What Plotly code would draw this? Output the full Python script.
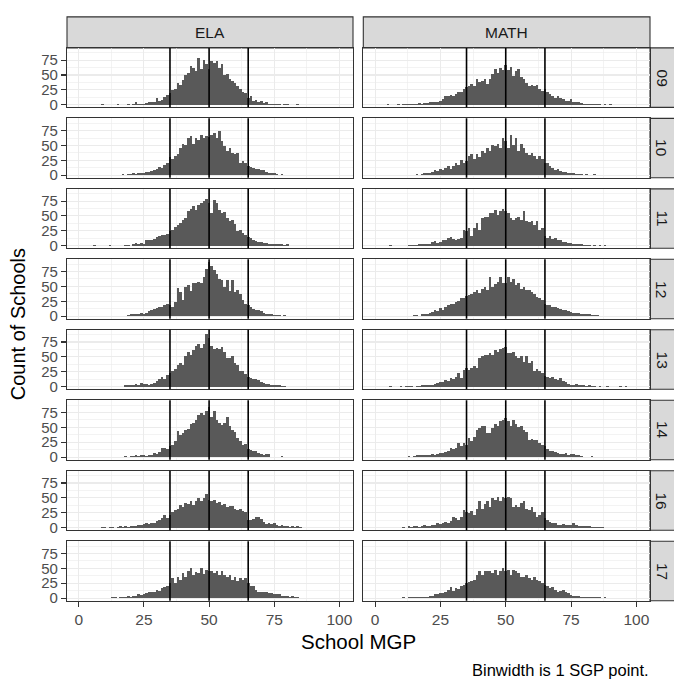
import plotly.graph_objects as go

# ---------------- data (counts of schools per 1-point MGP bin) ----------------
BINS = list(range(0, 101))
SUBJECTS = ["ELA", "MATH"]
YEARS = ["09", "10", "11", "12", "13", "14", "16", "17"]
REF_LINES = [35, 50, 65]
X_TICKS = [0, 25, 50, 75, 100]
Y_TICKS = [0, 25, 50, 75]

# each series: (first bin, counts from that bin on)
ela_09 = (9, [1,0,0,0,0,0,1,0,0,0,1,0,1,4,1,2,2,3,4,5,4,11,6,8,13,16,20,25,26,37,33,42,50,54,65,62,57,79,60,76,68,60,74,71,74,62,68,50,51,43,40,37,32,26,21,20,12,15,6,8,5,7,3,4,2,2,1,1,2,0,1,1,0,0,0,1])
ela_10 = (11, [1,0,1,1,0,1,2,1,2,2,3,2,3,3,4,5,5,7,8,10,14,12,17,20,30,28,32,35,45,52,50,62,66,52,62,60,68,63,66,64,68,71,63,74,58,49,41,46,38,35,38,21,24,21,16,13,12,10,10,8,8,5,4,3,3,2,1,2,1,1,1,0,1,0,1,0,1])
ela_11 = (6, [1,0,0,0,0,0,1,0,0,0,0,0,1,1,0,3,4,2,4,2,9,10,10,12,14,16,18,18,20,24,27,32,34,38,44,46,58,62,66,60,68,72,75,78,72,55,77,72,60,55,57,46,41,44,37,24,27,21,18,15,13,10,8,7,6,5,4,3,3,2,2,2,3,1,2])
ela_12 = (12, [1,0,0,0,0,0,0,2,3,3,3,4,5,4,6,8,10,12,14,15,16,18,20,18,16,24,48,40,27,49,52,43,55,56,58,55,66,80,91,85,77,71,63,61,49,60,43,60,41,44,38,27,21,18,15,12,11,10,8,6,4,4,3,2,2,2,1,2,1,1])
ela_13 = (18, [2,3,2,3,4,2,6,5,4,3,4,6,9,12,16,12,20,23,26,30,37,40,37,51,58,54,62,69,71,65,71,89,82,69,63,65,63,67,58,48,48,51,40,37,26,26,22,17,15,12,13,11,7,6,4,5,3,2,2,3,1,1])
ela_14 = (13, [1,1,0,1,1,2,1,2,2,3,2,3,3,2,3,4,7,5,8,15,15,14,18,21,27,44,38,41,46,48,55,57,63,71,74,70,77,84,68,77,63,57,54,57,67,52,46,43,32,27,21,22,14,12,10,11,7,6,4,5,5,1,1,0,1,2,1])
ela_16 = (9, [1,1,0,1,1,0,1,2,1,2,1,3,2,3,4,4,6,7,6,7,8,11,13,16,21,16,21,26,30,32,38,35,41,39,44,38,44,49,45,49,56,46,44,46,41,43,38,39,35,36,37,32,30,32,28,27,13,13,15,17,18,15,10,6,7,6,7,4,3,4,3,2,1,2,1,2,1])
ela_17 = (13, [1,1,0,1,1,2,3,2,3,4,6,5,7,9,10,10,11,14,12,17,18,20,25,34,25,36,31,42,36,45,51,39,43,42,50,40,47,45,46,42,45,39,45,38,36,39,31,36,29,33,31,33,25,21,21,14,11,10,11,10,9,8,7,7,6,3,4,3,2,3,1,1])

math_09 = (5, [1,0,0,0,1,0,1,1,1,2,1,2,3,2,3,3,4,4,4,5,7,10,15,14,16,15,18,22,21,26,29,32,35,32,43,39,40,44,35,43,51,60,54,61,59,66,59,63,49,57,60,46,43,37,32,33,31,33,27,23,26,21,18,14,12,14,11,10,7,7,9,5,4,5,3,2,2,1,1,1,1,1,0,1,0,1])
math_10 = (11, [1,0,1,1,1,2,1,2,3,3,4,6,8,7,11,8,12,16,10,16,21,18,25,20,24,32,35,27,36,30,41,38,46,41,51,49,53,46,63,58,46,68,51,63,41,52,46,38,34,38,32,28,32,28,21,20,16,12,8,10,7,6,5,4,3,3,2,2,2,1,2,1,1,2,1,1,0,1,0,1])
math_11 = (6, [1,0,0,0,0,0,0,1,1,1,1,2,2,3,3,3,6,8,4,7,10,10,13,14,12,10,12,13,27,24,30,16,30,38,27,47,49,49,55,55,60,52,58,62,58,55,46,43,47,49,43,58,41,40,42,35,41,27,30,16,13,17,11,13,10,10,7,6,4,5,3,3,2,2,1,1,1,0,1,0,1,0,1])
math_12 = (8, [1,0,0,1,1,0,1,2,2,1,3,3,4,5,7,10,9,13,11,16,18,20,21,24,26,30,31,34,35,38,41,44,39,46,49,44,66,49,54,57,66,56,55,66,58,63,52,56,46,49,44,44,41,38,32,30,27,21,18,19,16,15,14,12,11,10,8,7,6,5,5,4,3,3,3,2,2,2,1,1,0,1])
math_13 = (6, [1,0,0,0,1,0,1,1,1,0,1,1,2,2,2,3,3,4,6,7,8,11,9,15,12,17,23,14,28,31,28,31,34,31,48,51,54,54,56,54,62,59,63,65,66,57,56,59,51,48,52,42,51,40,43,26,29,27,23,18,17,14,16,13,11,15,9,7,5,3,3,4,2,3,2,1,2,1,1,0,1,0,0,1,0,0,0,0,1,0,1])
math_14 = (11, [1,1,2,1,2,3,4,3,4,3,4,5,4,5,7,7,8,10,15,13,15,24,18,24,21,32,27,33,46,49,52,52,41,41,49,55,52,60,63,66,60,52,63,55,50,52,46,43,29,31,29,29,24,21,18,13,10,11,9,7,6,5,7,4,6,5,3,4,2,1,1,0,2,0,1,0,0,0,0,1,0,0,1])
math_16 = (11, [1,0,2,1,2,2,1,2,4,3,3,4,5,7,6,7,10,8,11,18,16,13,18,30,27,24,28,21,32,44,32,40,44,35,49,46,52,45,52,49,52,49,35,38,35,41,44,32,30,35,27,18,21,27,16,13,10,8,7,5,4,6,5,5,5,8,5,3,3,2,3,2,1,1,1,1,1])
math_17 = (11, [1,0,1,1,1,1,1,1,2,2,3,4,6,7,8,8,11,14,18,12,17,16,20,22,25,27,28,31,38,45,38,46,45,46,42,47,39,45,50,45,47,39,47,45,42,36,35,39,34,31,35,31,28,25,22,21,17,18,14,10,12,14,11,8,5,4,3,3,2,2,1,1,1,1,1,1,0,1])

SERIES = {
    "ELA": [ela_09, ela_10, ela_11, ela_12, ela_13, ela_14, ela_16, ela_17],
    "MATH": [math_09, math_10, math_11, math_12, math_13, math_14, math_16, math_17],
}

def full_counts(spec):
    start, vals = spec
    out = [0] * len(BINS)
    for i, v in enumerate(vals):
        if start + i < len(out):
            out[start + i] = v
    return out

# ---------------- layout geometry (pixels) ----------------
W, H = 674, 683
def fx(p): return p / W
def fy(p): return 1 - p / H

COL_X = [(67, 353), (363.3, 650)]
ROW_TOP0, ROW_PITCH, ROW_H = 48.3, 71.1, 60.0
STRIP_TOP = 17
STRIP_R = (650, 681)
XR = [-4.5, 105.2]
YR = [-4.4, 95.6]

BAR = "#595959"
GRID = "#EBEBEB"
BORDER = "#333333"
STRIP_FILL = "#D9D9D9"
FONT = "Liberation Sans, Arial, sans-serif"

fig = go.Figure()
shapes = []
annotations = []
layout_axes = {}

for r, year in enumerate(YEARS):
    top = ROW_TOP0 + r * ROW_PITCH
    bot = top + ROW_H
    for c, subj in enumerate(SUBJECTS):
        n = r * 2 + c + 1
        xa = "x" if n == 1 else f"x{n}"
        ya = "y" if n == 1 else f"y{n}"
        xkey = "xaxis" if n == 1 else f"xaxis{n}"
        ykey = "yaxis" if n == 1 else f"yaxis{n}"
        bottom_row = (r == len(YEARS) - 1)
        left_col = (c == 0)
        layout_axes[xkey] = dict(
            domain=[fx(COL_X[c][0]), fx(COL_X[c][1])],
            anchor=ya, range=XR, fixedrange=True,
            tickmode="array", tickvals=X_TICKS,
            showticklabels=bottom_row,
            ticks="outside" if bottom_row else "", ticklen=5, tickwidth=1.1,
            tickcolor=BORDER,
            tickfont=dict(size=15.5, color="#4D4D4D", family=FONT),
            showgrid=True, gridcolor=GRID, gridwidth=1.1,
            minor=dict(tickmode="array", tickvals=[12.5, 37.5, 62.5, 87.5],
                       showgrid=True, gridcolor=GRID, gridwidth=0.6, ticks=""),
            zeroline=False,
            showline=True, mirror=True, linecolor=BORDER, linewidth=1.1,
        )
        layout_axes[ykey] = dict(
            domain=[fy(bot), fy(top)],
            anchor=xa, range=YR, fixedrange=True,
            tickmode="array", tickvals=Y_TICKS,
            showticklabels=left_col,
            ticks="outside" if left_col else "", ticklen=5, tickwidth=1.1,
            tickcolor=BORDER,
            tickfont=dict(size=15, color="#4D4D4D", family=FONT),
            showgrid=True, gridcolor=GRID, gridwidth=1.1,
            minor=dict(tickmode="array", tickvals=[12.5, 37.5, 62.5, 87.5],
                       showgrid=True, gridcolor=GRID, gridwidth=0.6, ticks=""),
            zeroline=False,
            showline=True, mirror=True, linecolor=BORDER, linewidth=1.1,
        )
        fig.add_trace(go.Bar(
            x=BINS, y=full_counts(SERIES[subj][r]), width=1,
            marker=dict(color=BAR, line=dict(width=0)),
            xaxis=xa, yaxis=ya, showlegend=False, hoverinfo="x+y",
        ))
        for v in REF_LINES:
            shapes.append(dict(type="line", xref=xa, yref=f"{ya} domain",
                               x0=v, x1=v, y0=0, y1=1,
                               line=dict(color="black", width=1.6), layer="above"))
    # right strip
    shapes.append(dict(type="rect", xref="paper", yref="paper",
                       x0=fx(STRIP_R[0]), x1=fx(STRIP_R[1]), y0=fy(bot), y1=fy(top),
                       fillcolor=STRIP_FILL, line=dict(color=BORDER, width=1.1), layer="below"))
    annotations.append(dict(text=year, xref="paper", yref="paper",
                            x=fx(662), y=fy((top + bot) / 2),
                            textangle=90, showarrow=False,
                            font=dict(size=15.5, color="#1A1A1A", family=FONT),
                            xanchor="center", yanchor="middle"))

# top strips
for c, subj in enumerate(SUBJECTS):
    shapes.append(dict(type="rect", xref="paper", yref="paper",
                       x0=fx(COL_X[c][0]), x1=fx(COL_X[c][1]),
                       y0=fy(ROW_TOP0), y1=fy(STRIP_TOP),
                       fillcolor=STRIP_FILL, line=dict(color=BORDER, width=1.1), layer="below"))
    annotations.append(dict(text=subj, xref="paper", yref="paper",
                            x=fx((COL_X[c][0] + COL_X[c][1]) / 2), y=fy((STRIP_TOP + ROW_TOP0) / 2),
                            showarrow=False, font=dict(size=15.5, color="#1A1A1A", family=FONT),
                            xanchor="center", yanchor="middle"))

last_bot = ROW_TOP0 + (len(YEARS) - 1) * ROW_PITCH + ROW_H
annotations.append(dict(text="School MGP", xref="paper", yref="paper",
                        x=fx((COL_X[0][0] + COL_X[1][1]) / 2), y=fy(647),
                        showarrow=False, font=dict(size=20.5, color="black", family=FONT),
                        xanchor="center", yanchor="middle"))
annotations.append(dict(text="Count of Schools", xref="paper", yref="paper",
                        x=fx(18), y=fy((ROW_TOP0 + last_bot) / 2), textangle=-90,
                        showarrow=False, font=dict(size=20, color="black", family=FONT),
                        xanchor="center", yanchor="middle"))
annotations.append(dict(text="Binwidth is 1 SGP point.", xref="paper", yref="paper",
                        x=fx(651), y=fy(676), showarrow=False,
                        font=dict(size=16.5, color="black", family=FONT),
                        xanchor="right", yanchor="middle"))

fig.update_layout(
    width=W, height=H,
    margin=dict(l=0, r=0, t=0, b=0),
    paper_bgcolor="white", plot_bgcolor="white",
    bargap=0, showlegend=False,
    shapes=shapes, annotations=annotations,
    font=dict(family=FONT),
    **layout_axes,
)

fig.write_html("out.html",
               config={"displayModeBar": False, "staticPlot": True},
               post_script="document.body.style.margin='0';document.body.style.overflow='hidden';")
